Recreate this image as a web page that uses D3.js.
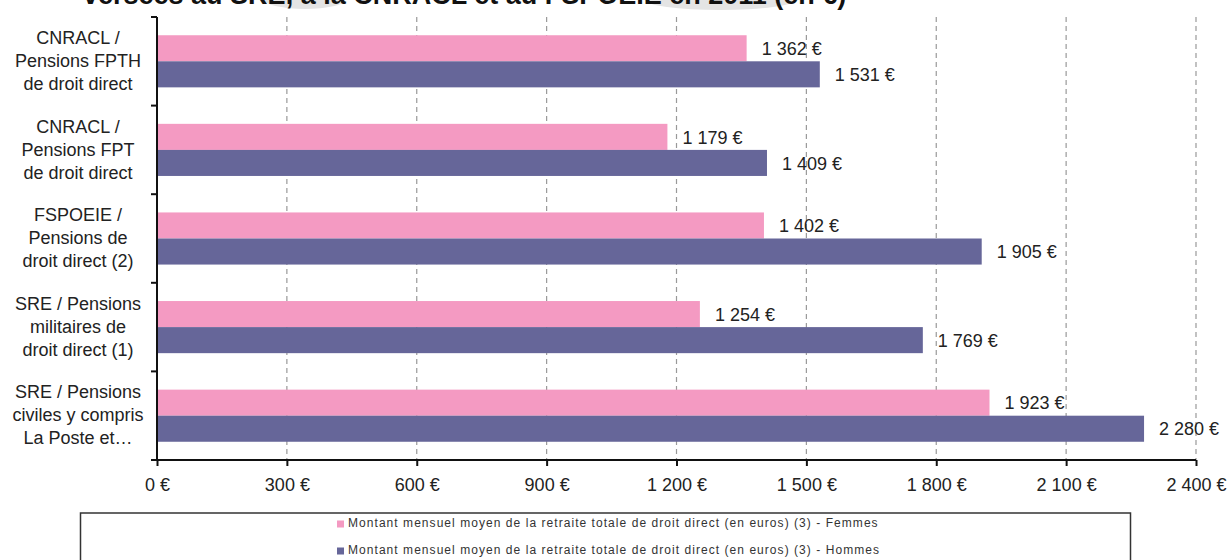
<!DOCTYPE html>
<html><head><meta charset="utf-8">
<script src="https://cdn.jsdelivr.net/npm/d3@7"></script>
<style>
html,body{margin:0;padding:0;background:#fff;overflow:hidden}
svg{display:block}
text{font-family:"Liberation Sans",Arial,sans-serif;fill:#222}
</style></head><body>
<svg id="c" width="1231" height="560"></svg>
<script>
const title = "versées au SRE, à la CNRACL et au FSPOEIE en 2011 (en €)";
const categories = [
  ["CNRACL /","Pensions FPTH","de droit direct"],
  ["CNRACL /","Pensions FPT","de droit direct"],
  ["FSPOEIE /","Pensions de","droit direct (2)"],
  ["SRE / Pensions","militaires de","droit direct (1)"],
  ["SRE / Pensions","civiles y compris","La Poste et…"]
];
const seriesNames = [
  "Montant mensuel moyen de la retraite totale de droit direct (en euros) (3) - Femmes",
  "Montant mensuel moyen de la retraite totale de droit direct (en euros) (3) - Hommes"
];
const femmes = [1362, 1179, 1402, 1254, 1923];
const hommes = [1531, 1409, 1905, 1769, 2280];
const tickValues = [0, 300, 600, 900, 1200, 1500, 1800, 2100, 2400];
const colors = ["#F49AC2", "#666699"];

(function(){
const fmt = v => d3.format(",")(v).replace(/,/g, " ") + " €";
const svg = d3.select("#c");
const L = 157, R = 1196, T = 17, B = 460;
const keys = categories.map((c,i)=>"c"+i);
const x = d3.scaleLinear().domain([0, 2400]).range([L, R]);
const y = d3.scaleBand().domain(keys).range([T, B]).padding(0);
const ys = d3.scaleBand().domain([0,1]).range([0, y.bandwidth()]).paddingInner(0).paddingOuter(0.7);

// faint watermark shapes behind the cut-off title
svg.append("ellipse").attr("cx", 305).attr("cy", 0).attr("rx", 40).attr("ry", 9).attr("fill", "#e4e4e4");
svg.append("ellipse").attr("cx", 720).attr("cy", 0).attr("rx", 75).attr("ry", 10).attr("fill", "#e4e4e4");

svg.append("text").attr("x", 83).attr("y", 4).style("font-size","27px").style("font-weight","bold")
  .style("fill","#111").text(title);

svg.append("g").selectAll("line").data(tickValues.slice(1)).join("line")
  .attr("x1", d=>x(d)).attr("x2", d=>x(d)).attr("y1", T).attr("y2", B)
  .attr("stroke", "#999").attr("stroke-width", 1.2).attr("stroke-dasharray", "5,4");

const data = [femmes, hommes];
const g = svg.append("g");
data.forEach((arr, s) => {
  g.selectAll(".b"+s).data(arr).join("rect").attr("class","b"+s)
    .attr("x", x(0)).attr("y", (d,i)=>y(keys[i]) + ys(s))
    .attr("width", d=>x(d)-x(0)).attr("height", ys.bandwidth())
    .attr("fill", colors[s]);
  g.selectAll(".l"+s).data(arr).join("text").attr("class","l"+s)
    .attr("x", d=>x(d)+15).attr("y", (d,i)=>y(keys[i]) + ys(s) + ys.bandwidth()/2 + 2)
    .attr("dominant-baseline","middle")
    .style("font-size","18px").text(d=>fmt(d));
});

const xa = svg.append("g").attr("transform", `translate(0,${B})`)
  .call(d3.axisBottom(x).tickValues(tickValues).tickFormat(fmt).tickSize(6).tickPadding(12));
xa.select(".domain").attr("stroke","#111").attr("stroke-width",2).attr("d",`M${L},0H${R}`);
xa.selectAll(".tick line").attr("stroke","#111").attr("stroke-width",2);
xa.selectAll(".tick text").style("font-size","18px").style("font-family","Liberation Sans, Arial, sans-serif").attr("fill","#222");

const ya = svg.append("g").attr("transform", `translate(${L},0)`)
  .call(d3.axisLeft(y).tickSize(0).tickFormat(""));
ya.select(".domain").attr("stroke","#111").attr("stroke-width",2).attr("d",`M0,${T}V${B}`);
const bounds = keys.map(k=>y(k)).concat([B]);
ya.selectAll(".bt").data(bounds).join("line").attr("class","bt").attr("x1",-6).attr("x2",0)
  .attr("y1",d=>d).attr("y2",d=>d).attr("stroke","#111").attr("stroke-width",2);

categories.forEach((lines, i) => {
  const cy = y(keys[i]) + y.bandwidth()/2;
  const t = svg.append("text").attr("text-anchor","middle").style("font-size","18px");
  lines.forEach((ln, j) => {
    t.append("tspan").attr("x", 78).attr("y", cy + 1 + (j-1)*23).attr("dominant-baseline","middle").text(ln);
  });
});

svg.append("rect").attr("x", 80.5).attr("y", 513).attr("width", 1050).attr("height", 60)
  .attr("fill","none").attr("stroke","#333").attr("stroke-width",1.5);
seriesNames.forEach((nm, s) => {
  const ly = 524 + s*27;
  svg.append("rect").attr("x", 337).attr("y", ly-3.5).attr("width", 7).attr("height", 7).attr("fill", colors[s]);
  svg.append("text").attr("x", 348).attr("y", ly).attr("dominant-baseline","middle")
    .style("font-size","12px").style("letter-spacing","1.05px").style("fill","#333").text(nm);
});
})();
</script>
</body></html>
